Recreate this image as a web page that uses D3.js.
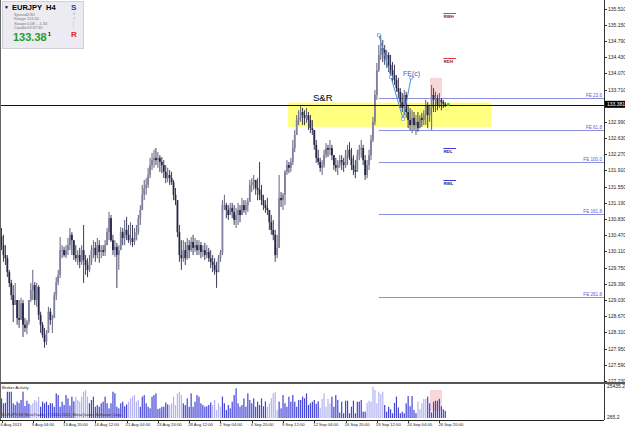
<!DOCTYPE html>
<html>
<head>
<meta charset="utf-8">
<script src="https://cdn.jsdelivr.net/npm/d3@7"></script>
<style>
  body { margin: 0; background: #fff; }
  svg { display: block; font-family: "Liberation Sans", Arial, sans-serif; }
</style>
</head>
<body>
<svg id="chart" width="625" height="429"></svg>
<script>
// EURJPY H4, one entry per bar starting 6 Aug 2013 12:00 (open = previous close)
const highs = [
  130.63, 130.48, 130.25, 130.03, 129.70, 129.48, 129.36, 129.41, 129.03, 129.03,
  129.08, 129.03, 128.63, 128.59, 129.03, 129.41, 129.70, 129.43, 129.41, 129.36,
  128.77, 128.54, 128.41, 128.36, 128.88, 128.85, 128.70, 129.21, 129.54, 129.70,
  130.43, 130.25, 130.21, 130.25, 130.41, 130.63, 130.54, 130.36, 130.25, 130.14,
  130.19, 130.25, 130.70, 130.03, 129.96, 130.03, 130.25, 130.36, 130.32, 130.41,
  130.36, 130.25, 130.25, 130.36, 130.63, 130.99, 130.92, 130.48, 130.36, 130.30,
  130.25, 130.65, 130.63, 130.81, 130.88, 130.70, 130.76, 130.70, 130.63, 130.70,
  130.92, 131.14, 131.59, 131.70, 131.74, 131.97, 132.19, 132.30, 132.37, 132.41,
  132.32, 132.25, 132.21, 132.14, 132.03, 131.97, 131.92, 131.88, 131.70, 131.52,
  131.25, 130.70, 130.36, 130.36, 130.32, 130.41, 130.36, 130.43, 130.48, 130.41,
  130.36, 130.36, 130.32, 130.25, 130.30, 130.25, 130.19, 130.14, 130.03, 129.96,
  129.88, 130.03, 130.14, 131.25, 131.37, 131.19, 131.14, 131.19, 131.19, 131.14,
  131.08, 131.19, 131.14, 131.30, 131.25, 131.25, 131.30, 131.70, 131.74, 131.81,
  131.70, 131.74, 132.10, 131.59, 131.37, 131.25, 131.30, 131.03, 130.92, 130.81,
  130.59, 130.48, 131.81, 131.43, 131.41, 131.92, 132.14, 132.10, 132.19, 132.59,
  132.81, 133.14, 133.25, 133.37, 133.30, 133.25, 133.30, 133.21, 133.14, 133.03,
  132.81, 132.59, 132.37, 132.19, 132.14, 132.37, 132.52, 132.48, 132.59, 132.48,
  132.25, 132.19, 132.14, 132.25, 132.25, 132.19, 132.37, 132.48, 132.54, 132.41,
  132.25, 132.14, 132.37, 132.48, 132.59, 132.48, 132.25, 132.14, 132.37, 132.70,
  133.10, 133.70, 134.30, 134.70, 134.92, 134.81, 134.70, 134.59, 134.54, 134.48,
  134.32, 134.26, 134.03, 133.97, 133.74, 133.63, 133.70, 133.66, 133.37, 133.30,
  133.25, 133.21, 133.14, 133.21, 133.14, 133.19, 133.25, 133.48, 133.43, 133.37,
  133.81, 133.74, 133.66, 133.59, 133.63, 133.52, 133.48, 133.43
];
const lows = [
  130.14, 129.88, 129.81, 129.54, 129.32, 129.03, 128.54, 128.92, 128.48, 128.41,
  128.63, 128.21, 128.32, 128.27, 128.48, 128.99, 129.03, 128.92, 128.88, 128.59,
  128.30, 128.19, 127.97, 128.03, 128.36, 128.48, 128.30, 128.63, 129.03, 129.36,
  129.52, 129.96, 129.99, 129.96, 130.03, 130.14, 130.03, 129.92, 129.88, 129.81,
  129.74, 129.81, 129.41, 129.59, 129.54, 129.65, 129.81, 129.96, 129.88, 129.96,
  129.86, 129.96, 130.01, 130.01, 130.25, 130.36, 130.32, 130.03, 129.99, 129.30,
  129.70, 130.19, 130.25, 130.25, 130.36, 130.30, 130.25, 130.21, 130.25, 130.36,
  130.48, 130.70, 131.14, 131.25, 131.37, 131.52, 131.74, 131.92, 131.97, 132.03,
  131.97, 131.88, 131.85, 131.74, 131.63, 131.65, 131.59, 131.59, 131.25, 131.14,
  130.43, 129.88, 129.70, 129.88, 129.81, 129.92, 129.96, 130.10, 130.03, 130.10,
  130.03, 130.03, 129.96, 129.99, 129.92, 129.96, 129.88, 129.74, 129.65, 129.59,
  129.30, 129.65, 129.88, 130.03, 131.03, 130.85, 130.81, 130.92, 130.85, 130.70,
  130.63, 130.70, 130.76, 130.92, 130.97, 130.92, 130.99, 131.25, 131.43, 131.48,
  131.37, 131.25, 131.25, 131.14, 131.03, 130.97, 130.92, 130.59, 130.48, 130.36,
  129.88, 129.96, 130.36, 131.10, 131.03, 131.14, 131.81, 131.85, 131.88, 132.03,
  132.32, 132.70, 132.92, 132.99, 132.92, 132.92, 132.97, 132.81, 132.74, 132.70,
  132.37, 132.08, 132.03, 131.88, 131.81, 131.97, 132.19, 132.21, 132.25, 132.14,
  131.92, 131.88, 131.81, 131.97, 131.92, 131.88, 131.97, 132.03, 132.14, 131.92,
  131.81, 131.74, 131.88, 132.14, 132.19, 132.03, 131.70, 131.74, 131.92, 132.14,
  132.54, 132.92, 133.48, 134.10, 134.37, 134.32, 134.26, 134.19, 134.10, 134.03,
  133.88, 133.81, 133.66, 133.52, 133.30, 133.21, 133.14, 133.08, 132.85, 132.81,
  132.74, 132.81, 132.70, 132.77, 132.85, 132.88, 132.92, 132.92, 132.85, 132.99,
  132.81, 133.21, 133.21, 133.25, 133.30, 133.25, 133.30, 133.32
];
const closes = [
  130.25, 130.03, 129.96, 129.65, 129.41, 129.14, 128.92, 129.03, 128.63, 128.59,
  128.96, 128.48, 128.41, 128.54, 129.03, 129.25, 129.36, 129.03, 129.32, 128.70,
  128.48, 128.25, 128.10, 128.30, 128.77, 128.59, 128.63, 129.14, 129.43, 129.59,
  130.14, 130.14, 130.03, 130.14, 130.25, 130.48, 130.36, 130.03, 129.96, 130.03,
  129.88, 130.14, 129.92, 129.81, 129.70, 129.88, 130.14, 130.19, 130.03, 130.25,
  130.10, 130.14, 130.10, 130.25, 130.54, 130.85, 130.36, 130.14, 130.21, 130.03,
  130.14, 130.54, 130.41, 130.59, 130.48, 130.36, 130.41, 130.32, 130.36, 130.54,
  130.85, 131.03, 131.37, 131.52, 131.59, 131.81, 132.03, 132.14, 132.19, 132.14,
  132.19, 132.10, 132.03, 131.88, 131.74, 131.81, 131.74, 131.65, 131.37, 131.25,
  130.54, 130.03, 129.96, 130.14, 129.96, 130.25, 130.14, 130.32, 130.19, 130.25,
  130.14, 130.25, 130.10, 130.14, 130.03, 130.10, 129.96, 129.88, 129.81, 129.70,
  129.65, 129.96, 130.08, 131.14, 131.14, 131.03, 130.92, 131.08, 130.99, 130.81,
  130.92, 131.03, 130.92, 131.14, 131.03, 131.14, 131.21, 131.59, 131.65, 131.70,
  131.52, 131.48, 131.37, 131.25, 131.14, 131.08, 131.03, 130.76, 130.59, 130.48,
  130.03, 130.19, 131.30, 131.25, 131.37, 131.88, 132.03, 131.97, 132.10, 132.41,
  132.70, 133.03, 133.08, 133.21, 133.14, 133.08, 133.14, 133.03, 132.85, 132.81,
  132.48, 132.19, 132.10, 131.97, 132.03, 132.25, 132.41, 132.37, 132.41, 132.25,
  132.03, 131.97, 132.03, 132.14, 132.10, 132.03, 132.25, 132.37, 132.19, 132.03,
  131.92, 131.88, 132.25, 132.37, 132.41, 132.14, 131.81, 132.03, 132.25, 132.59,
  132.99, 133.59, 134.14, 134.48, 134.63, 134.59, 134.41, 134.48, 134.26, 134.14,
  134.03, 133.92, 133.74, 133.66, 133.43, 133.30, 133.59, 133.21, 133.03, 132.92,
  133.08, 132.92, 132.99, 132.85, 133.08, 133.03, 133.14, 133.37, 133.14, 133.30,
  133.59, 133.48, 133.52, 133.37, 133.48, 133.43, 133.39, 133.381
];
const firstOpen = 130.45;
const currentPrice = 133.381;

// Broker Activity sub window
const activity = [
  15400, 11400, 11800, 20800, 20800, 20800, 11400, 10000, 12700, 11400, 14100, 20800, 9200, 13500, 11000,
  10000, 11400, 14100, 12700, 16800,
  8600, 12700, 11400, 12700, 10000, 11400, 11400, 8600, 19500, 18100, 8600, 12700, 10000, 18100, 15400, 9500, 16800, 13000,
  16800, 14100, 12700, 16800, 20800, 22200, 16800,
  11400, 14100, 16800, 8600, 10000, 8600, 11400, 12700, 16800, 11400, 7300, 11400, 20800, 19500, 8600, 7300, 11400, 12700, 9000, 10500,
  12700, 15400, 16800, 18100, 12700, 14000,
  8600, 16800, 18100, 11400, 8600, 7300, 16800, 18100, 19500, 6800, 7300, 8600, 8600, 12000, 10500,
  10000, 11400, 16800, 10000, 19500, 20800, 18100,
  11400, 10000, 15400, 8600, 19500, 8600, 12700, 18100, 16800, 11400, 10000, 8600, 9000, 10000, 12000,
  10000, 14100, 5900, 11400, 8600,
  16800, 11400, 5900, 10000, 7300, 12700, 18100, 23500, 11400, 8600, 10000, 15400, 8600, 19500, 14100, 11400, 15400, 8600, 12700, 10000, 15400, 9000, 13000,
  8600, 11400, 15400, 19500, 20800, 5900,
  12700, 7300, 18100, 11400, 8600, 16800, 12700, 18100, 12700, 8600, 14100, 14100, 16800, 15400, 19500, 10000, 11400, 12700, 14100, 11000, 13000,
  7300, 15000, 19500, 8600, 15000, 11400,
  16800, 8600, 18100, 14100, 3900, 12700, 3300, 13500, 13500, 3300, 8600, 13500, 3300, 12700, 12700, 14100, 4600, 4600,
  11700, 13500, 12700, 24900, 22200, 11400, 20800, 19000, 20800,
  10000, 4600, 8600, 6600, 3300, 11700, 16800, 8000, 3300, 4600, 3300, 11400, 17300, 9000, 17300, 5900, 3300,
  12700, 6600, 11400, 15000, 15000,
  16800, 11400, 4000, 12700, 13500, 13500, 15000, 9000, 6600, 5300
];
const activityLightRuns = [[15, 19], [38, 44], [65, 70], [86, 92], [108, 112], [136, 141], [163, 168], [187, 195], [213, 217]];
const activityRange = [265.2, 25435.2];

const priceTicks = [
  "135.510", "135.150", "134.790", "134.430", "134.070", "133.710", "132.990", "132.630",
  "132.270", "131.910", "131.550", "131.190", "130.830", "130.470", "130.110", "129.750",
  "129.390", "129.030", "128.670", "128.310", "127.950", "127.590", "127.230"
];
const tickLabels = [
  "6 Aug 2013", "9 Aug 04:00", "13 Aug 20:00", "16 Aug 12:00", "21 Aug 04:00",
  "23 Aug 20:00", "28 Aug 12:00", "2 Sep 04:00", "4 Sep 20:00", "9 Sep 12:00",
  "12 Sep 04:00", "16 Sep 20:00", "19 Sep 12:00", "24 Sep 04:00", "26 Sep 20:00"
];

// drawn objects
const srLevel = 133.37;
const srZone = {from: 146.5, to: 250.5, top: 133.42, bottom: 132.88};
const pinkBox = {from: 219.2, to: 225.3, top: 133.97, bottom: 133.54};
const fibo = {a: {bar: 193, price: 134.92}, b: {bar: 205.4, price: 133.055}, c: {bar: 209.5, price: 133.97}};
const fiboRatios = [23.6, 61.8, 100.0, 161.8, 261.8];
const pivots = [
  {name: "RWH", price: 135.41, color: "#e03a3a", text: "#7a1818"},
  {name: "RDH", price: 134.41, color: "#e03a3a", text: "#7a1818"},
  {name: "RDL", price: 132.41, color: "#3a3ad8", text: "#1a1a70"},
  {name: "RWL", price: 131.70, color: "#3a3ad8", text: "#1a1a70"}
];

// bar times, H4 without weekends
const barTimes = [];
for (let t = new Date(2013, 7, 6, 12); barTimes.length < closes.length; t = d3.timeHour.offset(t, 4)) {
  if (t.getDay() !== 0 && t.getDay() !== 6) barTimes.push(t);
}

const svg = d3.select('#chart');
const axisX = 604, mainBottom = 383, subBottom = 420;

const x = d3.scaleLinear().domain([0, closes.length - 1]).range([1.5, 445.3]);
const y = d3.scaleLinear().domain([127.23, 135.70]).range([381, 0]);
const ySub = d3.scaleLinear().domain(activityRange).range([417, 386]);

const main = svg.append('g');
main.append('clipPath').attr('id', 'mainClip')
  .append('rect').attr('x', 0).attr('y', 0).attr('width', axisX).attr('height', mainBottom);
const plot = main.append('g').attr('clip-path', 'url(#mainClip)');

// S&R zone and pink box (behind the candles)
plot.append('rect')
  .attr('x', x(srZone.from)).attr('y', y(srZone.top))
  .attr('width', x(srZone.to) - x(srZone.from))
  .attr('height', y(srZone.bottom) - y(srZone.top))
  .attr('fill', '#ffff80');
plot.append('rect')
  .attr('x', x(pinkBox.from)).attr('y', y(pinkBox.top))
  .attr('width', x(pinkBox.to) - x(pinkBox.from))
  .attr('height', y(pinkBox.bottom) - y(pinkBox.top))
  .attr('fill', '#f9d6d8');

// Fibo expansion levels
const fiboLen = fibo.a.price - fibo.b.price;
const feLevels = fiboRatios.map(r => ({r, price: fibo.c.price - fiboLen * r / 100}));
plot.selectAll('.fe').data(feLevels).enter().append('line')
  .attr('x1', x(fibo.a.bar)).attr('x2', axisX)
  .attr('y1', d => Math.round(y(d.price)) + 0.5).attr('y2', d => Math.round(y(d.price)) + 0.5)
  .attr('stroke', '#8f8fe0').attr('stroke-width', 1);
plot.selectAll('.fetext').data(feLevels).enter().append('text')
  .attr('x', axisX - 2).attr('y', d => Math.round(y(d.price)) - 1)
  .attr('text-anchor', 'end').attr('font-size', '4.6px').attr('fill', '#5a5ad8')
  .text(d => 'FE ' + d.r.toFixed(1));

// candles
const candles = closes.map((c, i) => ({
  i, c, o: i ? closes[i - 1] : firstOpen, h: highs[i], l: lows[i]
}));
const bull = '#80809f', bear = '#262646';
const cg = plot.selectAll('.candle').data(candles).enter().append('g');
cg.append('line')
  .attr('x1', d => x(d.i)).attr('x2', d => x(d.i))
  .attr('y1', d => y(Math.max(d.h, d.o, d.c))).attr('y2', d => y(Math.min(d.l, d.o, d.c)))
  .attr('stroke', d => d.c >= d.o ? '#50506f' : bear).attr('stroke-width', 0.9);
cg.append('rect')
  .attr('x', d => x(d.i) - 0.9).attr('width', 1.8)
  .attr('y', d => y(Math.max(d.o, d.c)))
  .attr('height', d => Math.max(0.8, Math.abs(y(d.o) - y(d.c))))
  .attr('fill', d => d.c >= d.o ? bull : bear);

// S&R line
plot.append('line')
  .attr('x1', 0).attr('x2', axisX)
  .attr('y1', Math.round(y(srLevel)) + 0.5).attr('y2', Math.round(y(srLevel)) + 0.5)
  .attr('stroke', '#111').attr('stroke-width', 1);
plot.append('text').attr('x', 313).attr('y', y(srLevel) - 4)
  .attr('font-size', '9.5px').attr('fill', '#000').text('S&R');

// Fibo expansion anchor line
const fPts = [fibo.a, {bar: (fibo.a.bar + fibo.b.bar) / 2, price: (fibo.a.price + fibo.b.price) / 2}, fibo.b, fibo.c];
plot.append('path')
  .attr('d', d3.line().x(d => x(d.bar)).y(d => y(d.price))([fibo.a, fibo.b, fibo.c]))
  .attr('fill', 'none').attr('stroke', '#4d8fe6').attr('stroke-width', 1);
plot.selectAll('.fpt').data(fPts).enter().append('rect')
  .attr('x', d => x(d.bar) - 1.3).attr('y', d => y(d.price) - 1.3)
  .attr('width', 2.6).attr('height', 2.6)
  .attr('fill', '#fff').attr('stroke', '#4d8fe6').attr('stroke-width', 0.6);
plot.append('text').attr('x', x(fibo.c.bar) - 8).attr('y', y(fibo.c.price) - 2)
  .attr('font-size', '7px').attr('fill', '#5252c8').text('FE(c)');

// pivot markers
const pv = plot.selectAll('.pivot').data(pivots).enter().append('g');
pv.append('line')
  .attr('x1', x(226)).attr('x2', x(232.5))
  .attr('y1', d => Math.round(y(d.price)) + 0.5).attr('y2', d => Math.round(y(d.price)) + 0.5)
  .attr('stroke', d => d.color).attr('stroke-width', 1);
pv.append('text')
  .attr('x', x(226) + 0.5).attr('y', d => y(d.price) + 5)
  .attr('font-size', '4.2px').attr('font-weight', 'bold').attr('fill', d => d.text)
  .text(d => d.name);

// current price dot
plot.append('circle').attr('cx', x(closes.length - 1) + 3).attr('cy', y(currentPrice))
  .attr('r', 1.6).attr('fill', '#22dd33');

// info panel
const info = svg.append('g');
info.append('rect').attr('x', 2.5).attr('y', 1.5).attr('width', 81).attr('height', 47)
  .attr('fill', '#ebebf1').attr('stroke', '#d0d0da');
info.append('text').attr('x', 4).attr('y', 9).attr('font-size', '5px').text('▼');
info.append('text').attr('x', 12).attr('y', 10).attr('font-size', '7.5px').attr('font-weight', 'bold')
  .text('EURJPY');
info.append('text').attr('x', 46).attr('y', 10).attr('font-size', '7.5px').attr('font-weight', 'bold')
  .text('H4');
const infoRows = [["Spread", "2.80"], ["Range", "114.30"], ["Swaps", "0.08 , -1.34"], ["Candle", "03:37:30"]];
info.selectAll('.row').data(infoRows).enter().append('g').each(function(d, i) {
  const g = d3.select(this);
  g.append('text').attr('x', 14).attr('y', 15.5 + i * 4.6).attr('font-size', '4px').attr('fill', '#777').text(d[0]);
  g.append('text').attr('x', 27).attr('y', 15.5 + i * 4.6).attr('font-size', '4px').attr('fill', '#777').text(d[1]);
});
info.append('text').attr('x', 13).attr('y', 41).attr('font-size', '11px').attr('font-weight', 'bold')
  .attr('fill', '#2a9a2a').text('133.38');
info.append('text').attr('x', 48).attr('y', 36).attr('font-size', '5px').attr('font-weight', 'bold')
  .text('1');
info.append('text').attr('x', 71).attr('y', 10).attr('font-size', '8px').attr('font-weight', 'bold')
  .attr('fill', '#2b2bd6').text('S');
[["e", "#b8b8e8", 15], ["n", "#b8b8e8", 20], ["i", "#e8a8c8", 24], ["l", "#e8a8c8", 28]].forEach(([t, c, yy]) =>
  info.append('text').attr('x', 73).attr('y', yy).attr('font-size', '4.5px').attr('fill', c).text(t));
info.append('text').attr('x', 71).attr('y', 37).attr('font-size', '8px').attr('font-weight', 'bold')
  .attr('fill', '#e02828').text('R');

// price axis
const axisG = svg.append('g');
axisG.append('line').attr('x1', axisX + 0.5).attr('x2', axisX + 0.5).attr('y1', 0).attr('y2', subBottom)
  .attr('stroke', '#333');
axisG.selectAll('.pt').data(priceTicks).enter().append('g').each(function(d) {
  const yy = Math.round(y(+d)) + 0.5;
  d3.select(this).append('line').attr('x1', axisX).attr('x2', axisX + 3).attr('y1', yy).attr('y2', yy).attr('stroke', '#333');
  d3.select(this).append('text').attr('x', axisX + 4).attr('y', yy + 1.8).attr('font-size', '5px').attr('fill', '#222').text(d);
});
axisG.append('rect').attr('x', axisX + 1).attr('y', y(currentPrice) - 3.5).attr('width', 20).attr('height', 7)
  .attr('fill', '#000');
axisG.append('text').attr('x', axisX + 3).attr('y', y(currentPrice) + 1.8).attr('font-size', '5px')
  .attr('fill', '#fff').text(currentPrice.toFixed(3));

// frames
svg.append('line').attr('x1', 0.5).attr('x2', 0.5).attr('y1', 0).attr('y2', subBottom).attr('stroke', '#666');
svg.append('line').attr('x1', 0).attr('x2', 625).attr('y1', mainBottom).attr('y2', mainBottom)
  .attr('stroke', '#555').attr('stroke-width', 2);
svg.append('line').attr('x1', 0).attr('x2', axisX).attr('y1', subBottom + 0.5).attr('y2', subBottom + 0.5)
  .attr('stroke', '#222');

// Broker Activity histogram
const isLight = i => activityLightRuns.some(([a, b]) => i >= a && i <= b);
const sub = svg.append('g');
sub.selectAll('.act').data(activity).enter().append('rect')
  .attr('x', (d, i) => x(i) - 0.6).attr('width', 1.2)
  .attr('y', d => ySub(d)).attr('height', d => ySub(activityRange[0]) - ySub(d) + 1)
  .attr('fill', (d, i) => isLight(i) ? '#b3b3f2' : '#4444d8');
sub.append('rect').attr('x', x(pinkBox.from)).attr('y', 390).attr('width', x(pinkBox.to) - x(pinkBox.from))
  .attr('height', 21).attr('fill', '#f9d6d8').lower();
sub.append('text').attr('x', 2).attr('y', 389).attr('font-size', '4.2px').attr('fill', '#222').text('Broker Activity');
sub.append('text').attr('x', 2).attr('y', 416).attr('font-size', '4px').attr('fill', '#333')
  .text('EURJPY,H4  MetaTrader, © 2001-2013, MetaQuotes Software Corp.');
[activityRange[1], activityRange[0]].forEach(v => {
  sub.append('text').attr('x', axisX + 3).attr('y', ySub(v) + 1.8).attr('font-size', '5px').attr('fill', '#222')
    .text(v.toFixed(1));
});

// time axis
const fmtDay = d3.timeFormat('%-d %b %Y'), fmtTime = d3.timeFormat('%-d %b %H:%M');
const tickBars = tickLabels.map(lbl => barTimes.findIndex(t => fmtTime(t) === lbl || fmtDay(t) === lbl));
const tg = svg.append('g').selectAll('.xt').data(tickLabels).enter().append('g');
tg.append('line')
  .attr('x1', (d, k) => Math.round(x(tickBars[k])) + 0.5).attr('x2', (d, k) => Math.round(x(tickBars[k])) + 0.5)
  .attr('y1', subBottom).attr('y2', subBottom + 3).attr('stroke', '#333');
tg.append('text')
  .attr('x', (d, k) => x(tickBars[k]) - 1).attr('y', 426)
  .attr('font-size', '4.2px').attr('fill', '#222').text(d => d);
</script>
</body>
</html>
